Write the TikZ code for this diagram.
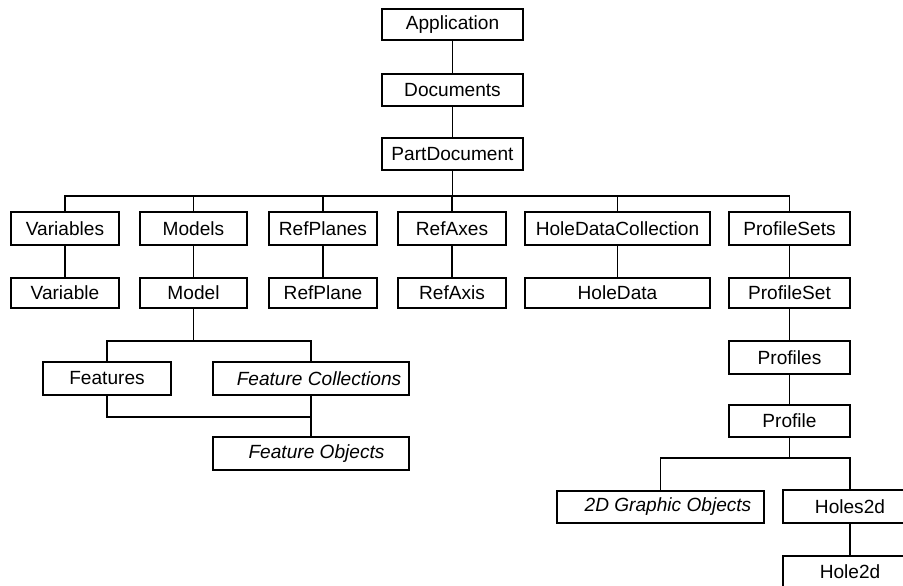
\documentclass[tikz,border=0pt]{standalone}
\usepackage{fontspec}
\setmainfont{Liberation Sans}
\begin{document}
\begin{tikzpicture}[x=0.3mm,y=-0.3mm,
  box/.style={draw=black,line width=1.1pt,inner sep=0pt,minimum height=32*0.3mm,
    font=\fontsize{16.3}{19}\selectfont,text=black},
  bw/.style={minimum width=#1*0.3mm},
  bh/.style={minimum height=#1*0.3mm},
  conn/.style={draw=black,line width=1.1pt}]
\useasboundingbox (0,0) rectangle (903,585);
\clip (0,0) rectangle (903,585);
% top chain
\node[box,bw=141,bh=31] (app) at (452.5,24.5) {Application};
\node[box,bw=141] (docs) at (452.5,90) {Documents};
\node[box,bw=141] (pd) at (452.5,154) {PartDocument};
% level 2
\node[box,bw=108,bh=33] (vars) at (65,228.5) {Variables};
\node[box,bw=107,bh=33] (models) at (193.5,228.5) {Models};
\node[box,bw=108,bh=33] (rpls) at (323,228.5) {RefPlanes};
\node[box,bw=108,bh=33] (raxs) at (452,228.5) {RefAxes};
\node[box,bw=185,bh=33] (hdc) at (617.5,228.5) {HoleDataCollection};
\node[box,bw=121,bh=33] (psets) at (789.5,228.5) {ProfileSets};
% level 3
\node[box,bw=108,bh=30] (var) at (65,293) {Variable};
\node[box,bw=107,bh=30] (model) at (193.5,293) {Model};
\node[box,bw=108,bh=30] (rpl) at (323,293) {RefPlane};
\node[box,bw=108,bh=30] (rax) at (452,293) {RefAxis};
\node[box,bw=185,bh=30] (hd) at (617.5,293) {HoleData};
\node[box,bw=121,bh=30] (pset) at (789.5,293) {ProfileSet};
% model subtree
\node[box,bw=128,bh=33] (feat) at (107,378.5) {Features};
\node[box,bw=196,bh=33] (fcol) at (311,378.5) {\hspace*{13.7pt}\itshape Feature Collections};
\node[box,bw=196,bh=33] (fobj) at (311,453.5) {\hspace*{9.4pt}\itshape Feature Objects};
% profile subtree
\node[box,bw=121,bh=33] (profs) at (789.5,357.5) {Profiles};
\node[box,bw=121] (prof) at (789.5,421) {Profile};
\node[box,bw=207] (gobj) at (660.5,507) {\hspace*{12.8pt}\itshape 2D Graphic Objects};
\node[box,bw=134,bh=33] (h2ds) at (850,506.5) {Holes2d};
\node[box,bw=134] (h2d) at (850,572) {Hole2d};
% bus coordinates
\coordinate (bus1) at (0,196);
\coordinate (bus2) at (0,341);
\coordinate (bus3) at (0,417);
\coordinate (bus4) at (0,458);
% connectors
\draw[conn] (app) -- (docs);
\draw[conn] (docs) -- (pd);
\draw[conn] (pd.south) -- (pd.south |- bus1);
\draw[conn] (vars.north) -- (vars.north |- bus1) -| (psets.north);
\draw[conn] (models.north) -- (models.north |- bus1);
\draw[conn] (rpls.north) -- (rpls.north |- bus1);
\draw[conn] (raxs.north) -- (raxs.north |- bus1);
\draw[conn] (hdc.north) -- (hdc.north |- bus1);
\draw[conn] (vars) -- (var);
\draw[conn] (models) -- (model);
\draw[conn] (rpls) -- (rpl);
\draw[conn] (raxs) -- (rax);
\draw[conn] (hdc) -- (hd);
\draw[conn] (psets) -- (pset);
\draw[conn] (model.south) -- (model.south |- bus2);
\draw[conn] (feat.north) -- (feat.north |- bus2) -| (fcol.north);
\draw[conn] (feat.south) -- (feat.south |- bus3) -| (fcol.south);
\draw[conn] (fcol) -- (fobj);
\draw[conn] (pset) -- (profs);
\draw[conn] (profs) -- (prof);
\draw[conn] (prof.south) -- (prof.south |- bus4);
\draw[conn] (gobj.north) -- (gobj.north |- bus4) -| (h2ds.north);
\draw[conn] (h2ds) -- (h2d);
\end{tikzpicture}
\end{document}
